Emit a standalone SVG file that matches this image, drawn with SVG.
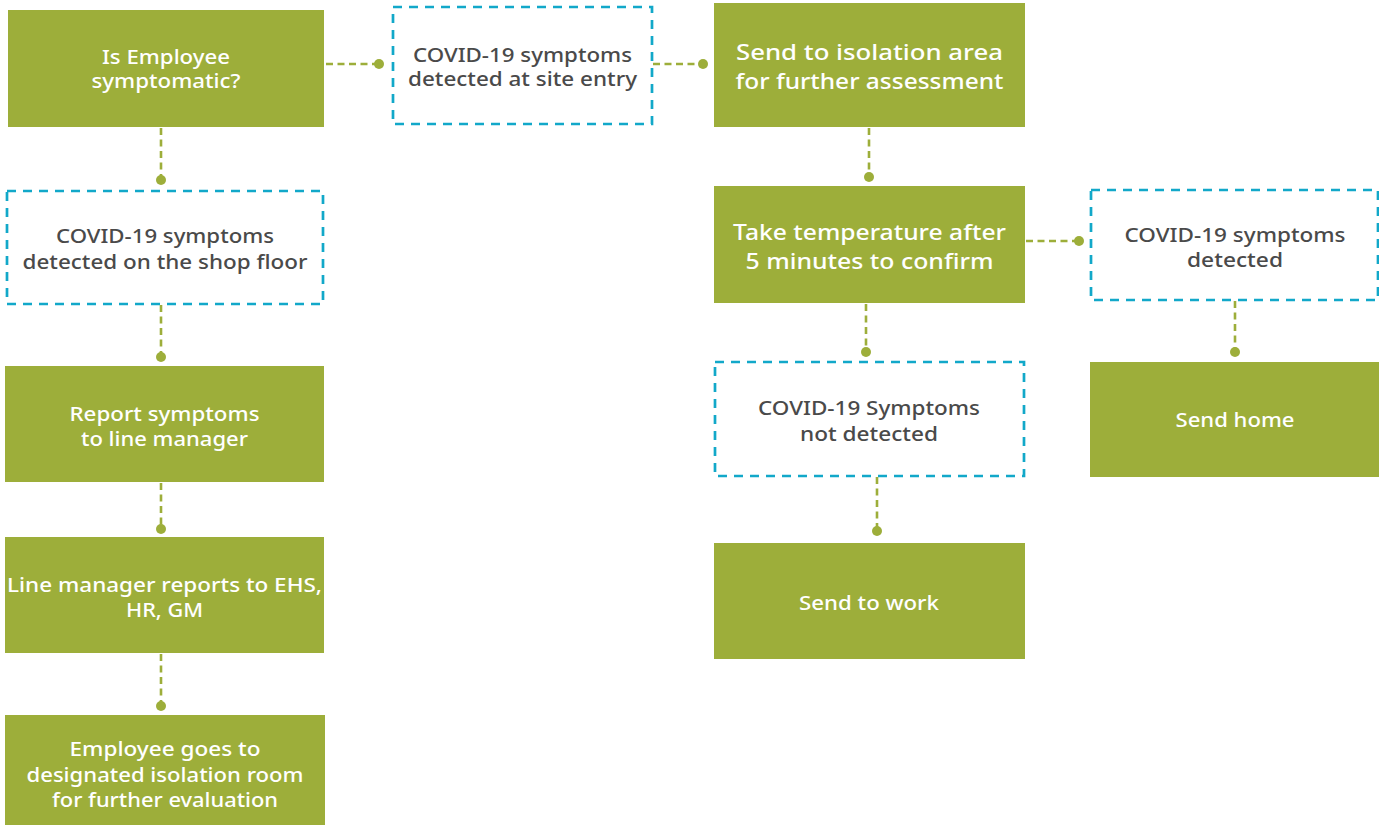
<svg xmlns="http://www.w3.org/2000/svg" width="1379" height="825" viewBox="0 0 1379 825">
<style>
.g{fill:#9DAE3A}
.d{fill:#FFFFFF;stroke:#12A8C9;stroke-width:2.7;stroke-dasharray:9 7}
.c{fill:none;stroke:#9DAE3A;stroke-width:2.6;stroke-dasharray:7 4.5;marker-end:url(#dot)}
text{font-family:"Noto Sans","Open Sans","Liberation Sans",sans-serif;font-weight:500;text-anchor:middle}
.w{fill:#FFFFFF;font-size:19px}
.W{fill:#FFFFFF;font-size:22.5px}
.k{fill:#4A4A4A;font-size:19px}
</style>
<defs>
<marker id="dot" viewBox="0 0 10 10" refX="5" refY="5" markerWidth="10" markerHeight="10" markerUnits="userSpaceOnUse"><circle cx="5" cy="5" r="5" fill="#9DAE3A"/></marker>
</defs>
<g id="connectors">
<path class="c" d="M326 64H379"/>
<path class="c" d="M161 128V180"/>
<path class="c" d="M653 64H703"/>
<path class="c" d="M869 128V177"/>
<path class="c" d="M1026 241H1079"/>
<path class="c" d="M866 304V352"/>
<path class="c" d="M1235 301V352"/>
<path class="c" d="M877 477V531"/>
<path class="c" d="M161 305V357"/>
<path class="c" d="M161 483V529"/>
<path class="c" d="M161 654V706"/>
</g>
<g id="n1"><rect class="g" x="8" y="10" width="316" height="117"/>
<text class="w" x="166" y="64" textLength="128" lengthAdjust="spacingAndGlyphs">Is Employee</text>
<text class="w" x="166" y="88" textLength="149" lengthAdjust="spacingAndGlyphs">symptomatic?</text></g>
<g id="n2"><rect class="d" x="393" y="7" width="259" height="117"/>
<text class="k" x="522.5" y="62" textLength="219" lengthAdjust="spacingAndGlyphs">COVID-19 symptoms</text>
<text class="k" x="522.5" y="86" textLength="229" lengthAdjust="spacingAndGlyphs">detected at site entry</text></g>
<g id="n3"><rect class="g" x="714" y="3" width="311" height="124"/>
<text class="W" x="869.5" y="60" textLength="267" lengthAdjust="spacingAndGlyphs">Send to isolation area</text>
<text class="W" x="869.5" y="89" textLength="268" lengthAdjust="spacingAndGlyphs">for further assessment</text></g>
<g id="n4"><rect class="g" x="714" y="186" width="311" height="117"/>
<text class="W" x="869.5" y="240" textLength="273" lengthAdjust="spacingAndGlyphs">Take temperature after</text>
<text class="W" x="869.5" y="269" textLength="248" lengthAdjust="spacingAndGlyphs">5 minutes to confirm</text></g>
<g id="n5"><rect class="d" x="1091" y="190" width="287" height="110"/>
<text class="k" x="1235" y="242" textLength="221" lengthAdjust="spacingAndGlyphs">COVID-19 symptoms</text>
<text class="k" x="1235" y="267" textLength="96" lengthAdjust="spacingAndGlyphs">detected</text></g>
<g id="n6"><rect class="g" x="1090" y="362" width="289" height="115"/>
<text class="w" x="1235" y="427" textLength="119" lengthAdjust="spacingAndGlyphs">Send home</text></g>
<g id="n7"><rect class="d" x="715" y="362" width="309" height="114"/>
<text class="k" x="869" y="415" textLength="222" lengthAdjust="spacingAndGlyphs">COVID-19 Symptoms</text>
<text class="k" x="869" y="441" textLength="138" lengthAdjust="spacingAndGlyphs">not detected</text></g>
<g id="n8"><rect class="g" x="714" y="543" width="311" height="116"/>
<text class="w" x="869" y="610" textLength="140" lengthAdjust="spacingAndGlyphs">Send to work</text></g>
<g id="n9"><rect class="d" x="7" y="191" width="316" height="113"/>
<text class="k" x="165" y="243" textLength="218" lengthAdjust="spacingAndGlyphs">COVID-19 symptoms</text>
<text class="k" x="165" y="269" textLength="285" lengthAdjust="spacingAndGlyphs">detected on the shop floor</text></g>
<g id="n10"><rect class="g" x="5" y="366" width="319" height="116"/>
<text class="w" x="164.5" y="421" textLength="190" lengthAdjust="spacingAndGlyphs">Report symptoms</text>
<text class="w" x="164.5" y="446" textLength="167" lengthAdjust="spacingAndGlyphs">to line manager</text></g>
<g id="n11"><rect class="g" x="5" y="537" width="319" height="116"/>
<text class="w" x="164.5" y="592" textLength="315" lengthAdjust="spacingAndGlyphs">Line manager reports to EHS,</text>
<text class="w" x="164.5" y="617" textLength="77" lengthAdjust="spacingAndGlyphs">HR, GM</text></g>
<g id="n12"><rect class="g" x="5" y="715" width="320" height="110"/>
<text class="w" x="165" y="756" textLength="191" lengthAdjust="spacingAndGlyphs">Employee goes to</text>
<text class="w" x="165" y="782" textLength="277" lengthAdjust="spacingAndGlyphs">designated isolation room</text>
<text class="w" x="165" y="807" textLength="226" lengthAdjust="spacingAndGlyphs">for further evaluation</text></g>
</svg>
